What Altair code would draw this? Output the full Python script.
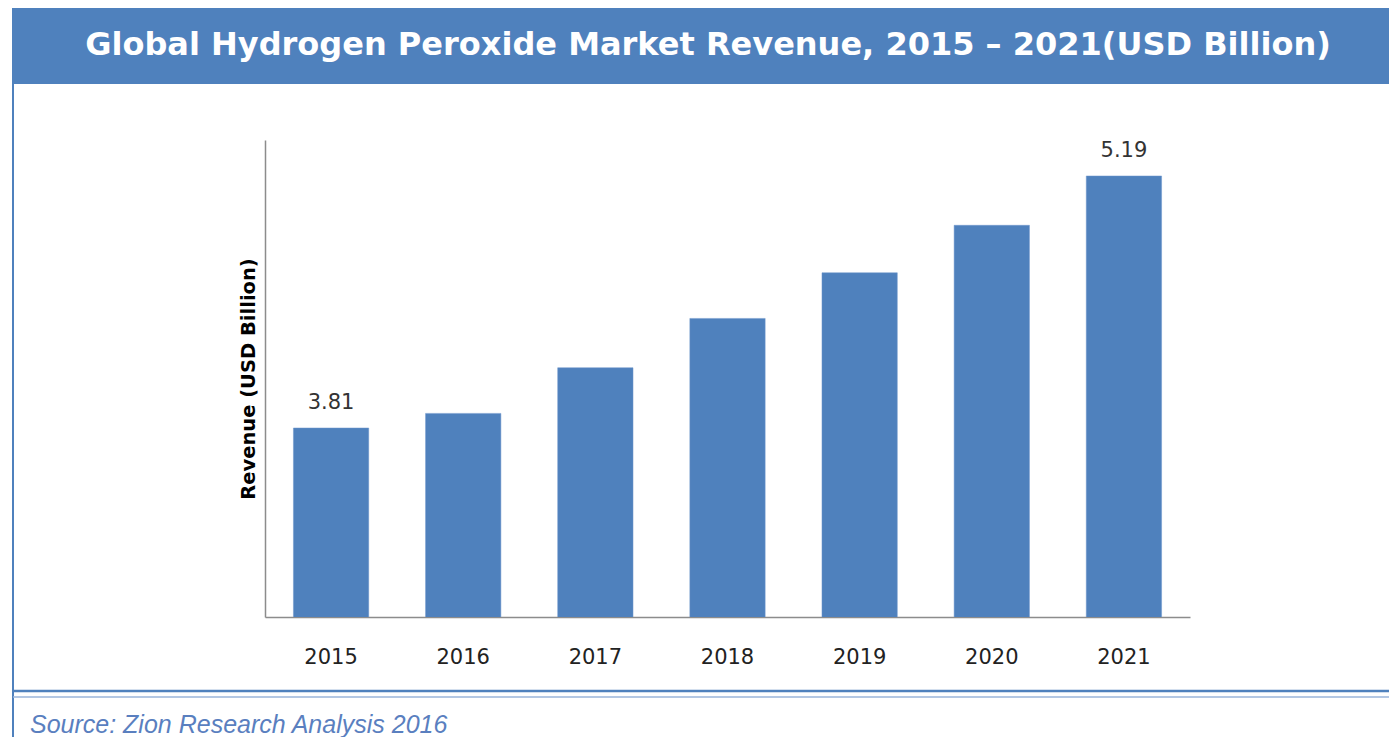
import altair as alt
import pandas as pd

years = ["2015", "2016", "2017", "2018", "2019", "2020", "2021"]
revenue = [3.81, 3.89, 4.14, 4.41, 4.66, 4.92, 5.19]
shown_labels = ["3.81", "", "", "", "", "", "5.19"]

title_text = "Global Hydrogen Peroxide Market Revenue, 2015 \u2013 2021(USD Billion)"
source_text = "Source: Zion Research Analysis 2016"
y_title = "Revenue (USD Billion)"

BLUE = "#4f81bd"

df = pd.DataFrame({"year": years, "revenue": revenue, "label": shown_labels})
one = pd.DataFrame({"k": [0]})

x_enc = alt.X(
    "year:N",
    sort=years,
    scale=alt.Scale(paddingInner=0.43, paddingOuter=0.215),
    axis=alt.Axis(
        title=None, ticks=False, labelAngle=0, labelFont="DejaVu Sans",
        labelFontSize=21, labelColor="#222222", labelPadding=29,
        domainColor="#8c8c8c", domainWidth=1.5,
    ),
)
y_enc = alt.Y(
    "revenue:Q",
    scale=alt.Scale(domain=[2.775, 5.387], zero=False, nice=False),
    axis=alt.Axis(
        title=y_title, labels=False, ticks=False, grid=False,
        domainColor="#8c8c8c", domainWidth=1.5,
        titleFont="DejaVu Sans", titleFontWeight="bold", titleFontSize=19.5,
        titleColor="#000000", titlePadding=7,
    ),
)

bars = alt.Chart(df).mark_bar(
    color=BLUE, stroke="#6f97cc", strokeWidth=0.5, clip=True
).encode(x=x_enc, y=y_enc)

labels = alt.Chart(df).mark_text(
    baseline="bottom", dy=-15, font="DejaVu Sans", fontSize=21, color="#333333"
).encode(x=alt.X("year:N", sort=years), y="revenue:Q", text="label:N")

banner = alt.Chart(one).mark_rect(color=BLUE).encode(
    x=alt.value(-253), x2=alt.value(1140), y=alt.value(-132), y2=alt.value(-56)
)
title = alt.Chart(one).mark_text(
    text=title_text, font="DejaVu Sans", fontWeight="bold", fontSize=32,
    color="white", align="center", baseline="middle",
).encode(x=alt.value(443), y=alt.value(-95))

left_border = alt.Chart(one).mark_rule(color=BLUE, strokeWidth=2).encode(
    x=alt.value(-252), y=alt.value(-56), y2=alt.value(620)
)
sep1 = alt.Chart(one).mark_rule(color=BLUE, strokeWidth=2.5).encode(
    x=alt.value(-252), x2=alt.value(1140), y=alt.value(551)
)
sep2 = alt.Chart(one).mark_rule(color="#9ab5da", strokeWidth=1.5).encode(
    x=alt.value(-252), x2=alt.value(1140), y=alt.value(557)
)
source = alt.Chart(one).mark_text(
    text=source_text, font="Liberation Sans", fontStyle="italic", fontSize=25,
    color="#5a7fbf", align="left", baseline="middle",
).encode(x=alt.value(-235), y=alt.value(585))

chart = alt.layer(banner, title, left_border, sep1, sep2, source, bars, labels).properties(
    width=925,
    height=477,
    padding={"left": 257, "top": 132, "right": 199, "bottom": 120},
    autosize=alt.AutoSizeParams(type="none"),
    background="white",
).configure_view(stroke=None)

chart.save("out.html", embed_options={"renderer": "svg", "actions": False})
